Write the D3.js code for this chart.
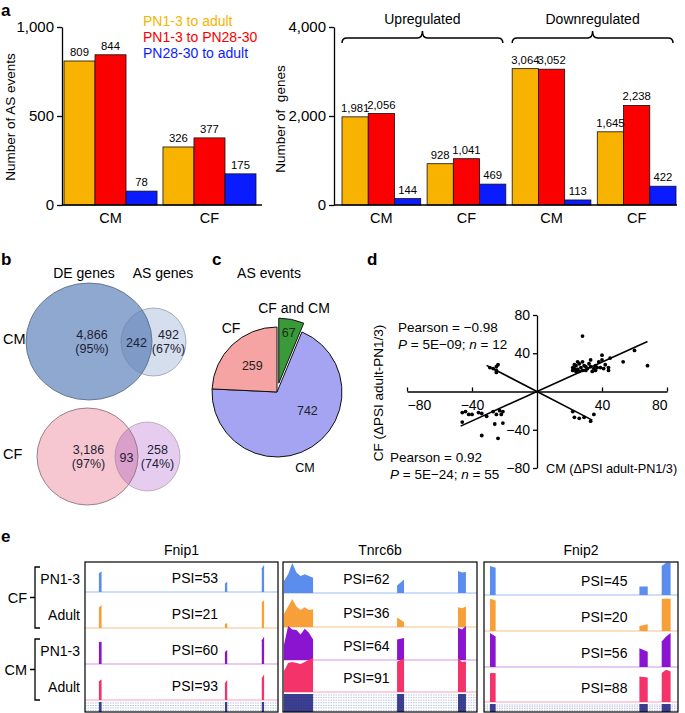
<!DOCTYPE html>
<html>
<head>
<meta charset="utf-8">
<script src="https://cdn.jsdelivr.net/npm/d3@7"></script>
<style>
  body { margin: 0; background: #fff; }
  svg { display: block; font-family: "Liberation Sans", Arial, sans-serif; }
</style>
</head>
<body>
<script>
// ---- panel a data
const asGroups = ["CM", "CF"];
const comparisons = ["PN1-3 to adult", "PN1-3 to PN28-30", "PN28-30 to adult"];
const asEventCounts = [[809, 844, 78], [326, 377, 175]];
const asTicks = [0, 500, 1000];

const deGroups = ["CM", "CF", "CM", "CF"];
const deDirections = ["Upregulated", "Downregulated"];
const deGeneCounts = [[1981, 2056, 144], [928, 1041, 469], [3064, 3052, 113], [1645, 2238, 422]];
const deTicks = [0, 2000, 4000];

// ---- panel b data
const vennCells = ["CM", "CF"];
const vennSets = ["DE genes", "AS genes"];
const deOnlyCounts = [4866, 3186];
const deOnlyPct = [95, 97];
const overlapCounts = [242, 93];
const asOnlyCounts = [492, 258];
const asOnlyPct = [67, 74];

// ---- panel c data
const pieLabels = ["CF and CM", "CM", "CF"];
const pieValues = [67, 742, 259];

// ---- panel d data
const posPoints = [
  [-46, -22], [-44, -21], [-42, -24], [-46, -32], [-40, -24], [-36, -22], [-34, -46], [-34, -23],
  [-27, -21], [-25, -24], [-23, -20], [-22, -24], [-21, -21], [-26, -34], [-21, -33], [-24, -49], [-31, -26],
  [28, 58], [68, 27], [60, 43], [53, 31], [45, 35], [40, 38], [44, 22], [44, 25], [42, 28], [38, 31],
  [36, 27], [35, 24], [33, 33], [32, 29], [31, 24], [30, 22], [29, 27], [28, 31], [27, 25], [26, 29],
  [25, 23], [24, 27], [23, 24], [22, 22], [22, 25], [23, 28], [25, 31], [26, 21], [28, 22], [30, 26],
  [34, 21], [36, 22], [37, 25], [39, 25], [40, 33], [41, 24], [33, 26], [24, 21]
];
const negPoints = [
  [-29, 25], [-27, 24], [-25, 22], [-25, 26], [-24, 28], [-25, 20],
  [22, -21], [23, -27], [26, -28], [29, -27], [33, -31], [35, -24]
];
const fitSlopes = [0.77, -0.88];
const fitRanges = [[-47, 68], [-31, 34]];
const dTicks = [-80, -40, 40, 80];

// ---- panel e data
const trackGenes = ["Fnip1", "Tnrc6b", "Fnip2"];
const trackSamples = ["PN1-3", "Adult", "PN1-3", "Adult"];
const trackCells = ["CF", "CM"];
const psiValues = [[53, 21, 60, 93], [62, 36, 64, 91], [45, 20, 56, 88]];
const exonSpans = [
  [[7.2, 8.6], [72.5, 73.7], [91.6, 92.8]],
  [[0.5, 15.5], [58.8, 62.4], [90.2, 94.3]],
  [[3.1, 6.0], [80.1, 84.4], [91.6, 96.2]]
];
// coverage per gene -> sample row -> exon, as fraction of track height
const coverage = [
  [
    [[0.55, 0.6], [0.25, 0.3], [0.7, 0.8]],
    [[0.6, 0.68], [0.12, 0.15], [0.75, 0.82]],
    [[0.65, 0.65], [0.35, 0.41], [0.7, 0.8]],
    [[0.55, 0.6], [0.5, 0.59], [0.65, 0.75]]
  ],
  [
    [[0.35, 0.55, 0.88, 0.6, 0.5, 0.55, 0.5, 0.45], [0.22, 0.4], [0.65, 0.6, 0.62]],
    [[0.38, 0.6, 0.82, 0.6, 0.5, 0.58, 0.5, 0.52], [0.28, 0.15], [0.58, 0.55, 0.6]],
    [[0.45, 1, 0.9, 0.88, 0.75, 0.92, 0.8, 0.6], [0.6, 0.65], [0.95, 0.9, 1]],
    [[0.62, 0.85, 0.88, 0.85, 0.82, 0.88, 0.95, 1], [0.9, 0.98], [1, 0.88, 0.9]]
  ],
  [
    [[0.85, 0.8], [0.25, 0.25], [0.85, 0.95, 0.95]],
    [[0.95, 0.9], [0.15, 0.2], [0.95, 0.95, 0.95]],
    [[1, 0.9], [0.55, 0.45], [0.75, 0.9, 1]],
    [[0.85, 0.85], [0.75, 0.72], [0.85, 0.95, 0.9]]
  ]
];

// ---- styles
const barColors = ["#f8b300", "#fa0000", "#0a1cff"];
const pieColors = ["#3a9a3a", "#a4a4f2", "#f5a3a3"];
const trackColors = ["#5b8def", "#f7a03a", "#8a14cf", "#f3336a"];
const trackLight = ["#9cbaf3", "#f7c08a", "#cc95ea", "#f7a0ba"];

const svg = d3.select("body").append("svg").attr("width", 685).attr("height", 713);
svg.append("rect").attr("width", 685).attr("height", 713).attr("fill", "#fff");

function panelLabel(t, x, y) {
  svg.append("text").attr("x", x).attr("y", y).attr("font-size", 17)
    .attr("font-weight", "bold").text(t);
}

function styleAxis(g, size) {
  g.attr("font-family", null).attr("font-size", size);
  g.select(".domain").attr("stroke", "#000").attr("stroke-width", 1.3);
  g.selectAll(".tick line").attr("stroke", "#000").attr("stroke-width", 1.3);
  g.selectAll(".tick text").attr("fill", "#000");
}

// =============== panel a
panelLabel("a", 1, 16);

function barChart(g, counts, groupNames, yScale, xScale, ticks, axisX, xEnd) {
  const inner = d3.scaleBand().domain(d3.range(comparisons.length)).range([0, xScale.bandwidth()]);
  const grp = g.selectAll("g.grp").data(counts).join("g").attr("class", "grp")
    .attr("transform", (d, i) => "translate(" + xScale(i) + ",0)");
  grp.selectAll("rect").data(d => d).join("rect")
    .attr("x", (v, j) => inner(j))
    .attr("y", v => yScale(v))
    .attr("width", inner.bandwidth())
    .attr("height", v => yScale(0) - yScale(v))
    .attr("fill", (v, j) => barColors[j])
    .attr("stroke", "#111").attr("stroke-width", 0.8);
  grp.selectAll("text").data(d => d).join("text")
    .attr("x", (v, j) => inner(j) + inner.bandwidth() / 2)
    .attr("y", v => yScale(v) - 5)
    .attr("text-anchor", "middle").attr("font-size", 11.3)
    .text(d3.format(","));

  g.append("g").attr("transform", "translate(" + axisX + ",0)")
    .call(d3.axisLeft(yScale).tickValues(ticks).tickFormat(d3.format(",")).tickSize(5).tickPadding(3).tickSizeOuter(0))
    .call(a => styleAxis(a, 15));

  g.append("line").attr("x1", axisX).attr("x2", xEnd)
    .attr("y1", yScale(0)).attr("y2", yScale(0))
    .attr("stroke", "#000").attr("stroke-width", 1.3);

  g.append("g").attr("transform", "translate(0," + yScale(0) + ")")
    .call(d3.axisBottom(xScale).tickFormat(i => groupNames[i]).tickSize(0).tickPadding(8))
    .call(a => { styleAxis(a, 14.5); a.select(".domain").remove(); });
}

const aLeft = svg.append("g");
const yAS = d3.scaleLinear().domain([0, 1000]).range([205, 27]);
const xAS = d3.scaleBand().domain(d3.range(asGroups.length)).range([64, 256]).paddingInner(0.06);
barChart(aLeft, asEventCounts, asGroups, yAS, xAS, asTicks, 62, 262);

aLeft.append("text")
  .attr("transform", "translate(15,117) rotate(-90)")
  .attr("text-anchor", "middle").attr("font-size", 13.5)
  .text("Number of AS events");

aLeft.selectAll("text.legend").data(comparisons).join("text").attr("class", "legend")
  .attr("x", 143).attr("y", (d, i) => 26 + i * 16)
  .attr("font-size", 14).attr("fill", (d, i) => barColors[i])
  .text(d => d);

const aRight = svg.append("g");
const yDE = d3.scaleLinear().domain([0, 4000]).range([205, 27]);
const xDE = d3.scaleBand().domain(d3.range(deGroups.length)).range([342, 676]).paddingInner(0.075);
barChart(aRight, deGeneCounts, deGroups, yDE, xDE, deTicks, 334, 677);

aRight.append("text")
  .attr("transform", "translate(285,119) rotate(-90)")
  .attr("text-anchor", "middle").attr("font-size", 13.5)
  .text("Number of\u00a0 genes");

// braces over up / down groups
deDirections.forEach((name, k) => {
  const x0 = xDE(k * 2), x1 = xDE(k * 2 + 1) + xDE.bandwidth() - 3;
  const xm = (x0 + x1) / 2, yb = 43, yl = 38, yt = 31;
  const p = d3.path();
  p.moveTo(x0, yb);
  p.quadraticCurveTo(x0, yl, x0 + 5, yl);
  p.lineTo(xm - 5, yl);
  p.quadraticCurveTo(xm, yl, xm, yt);
  p.quadraticCurveTo(xm, yl, xm + 5, yl);
  p.lineTo(x1 - 5, yl);
  p.quadraticCurveTo(x1, yl, x1, yb);
  aRight.append("path").attr("d", p.toString()).attr("fill", "none")
    .attr("stroke", "#000").attr("stroke-width", 1.5);
  aRight.append("text").attr("x", xm).attr("y", 24).attr("text-anchor", "middle")
    .attr("font-size", 14).text(name);
});

// =============== panel b (Venn)
panelLabel("b", 1, 265);
const b = svg.append("g");
const defs = svg.append("defs");
b.selectAll("text.set").data(vennSets).join("text").attr("class", "set")
  .attr("x", (d, i) => [84, 163][i]).attr("y", 278)
  .attr("text-anchor", "middle").attr("font-size", 14).text(d => d);

const vennShapes = [
  { big: [89, 341.5, 63, 58.5], small: [153.5, 342, 32.5, 34], fills: ["#8fa8cf", "#d5deec", "#7e9ac7"], stroke: "#5d6f8c" },
  { big: [87.5, 456.5, 50.5, 48.5], small: [147.5, 456.5, 32.5, 34.5], fills: ["#f7c7d1", "#e6cdf0", "#daa0cb"], stroke: "#8f7480" }
];
vennShapes.forEach((s, i) => {
  const cid = "vclip" + i;
  defs.append("clipPath").attr("id", cid).append("ellipse")
    .attr("cx", s.big[0]).attr("cy", s.big[1]).attr("rx", s.big[2]).attr("ry", s.big[3]);
  const el = (sh, fill) => b.append("ellipse")
    .attr("cx", sh[0]).attr("cy", sh[1]).attr("rx", sh[2]).attr("ry", sh[3]).attr("fill", fill);
  el(s.big, s.fills[0]);
  el(s.small, s.fills[1]);
  el(s.small, s.fills[2]).attr("clip-path", "url(#" + cid + ")");
  el(s.big, "none").attr("stroke", s.stroke).attr("stroke-width", 0.9);
  el(s.small, "none").attr("stroke", s.stroke).attr("stroke-width", 0.7).attr("stroke-opacity", 0.7);

  const cy = s.big[1];
  b.append("text").attr("x", 3).attr("y", cy + 2).attr("font-size", 14.5).text(vennCells[i]);
  const two = (x, a, c) => {
    b.append("text").attr("x", x).attr("y", cy - 3).attr("text-anchor", "middle").attr("font-size", 12.5).attr("fill", "#1d2236").text(a);
    b.append("text").attr("x", x).attr("y", cy + 11).attr("text-anchor", "middle").attr("font-size", 12.5).attr("fill", "#1d2236").text(c);
  };
  two(s.big[0] + (i ? 1 : 3), d3.format(",")(deOnlyCounts[i]), "(" + deOnlyPct[i] + "%)");
  two(s.small[0] + (i ? 10 : 15), asOnlyCounts[i], "(" + asOnlyPct[i] + "%)");
  b.append("text").attr("x", (s.big[0] + s.big[2] + s.small[0] - s.small[2]) / 2).attr("y", cy + 5)
    .attr("text-anchor", "middle").attr("font-size", 12.5).attr("fill", "#1d2236").text(overlapCounts[i]);
});

// =============== panel c (pie)
panelLabel("c", 212, 265);
const c = svg.append("g").attr("transform", "translate(277,392)");
svg.append("text").attr("x", 269).attr("y", 278).attr("text-anchor", "middle")
  .attr("font-size", 14).text("AS events");
const pieR = 65;
const arcs = d3.pie().sort(null)(pieValues);
const arc = d3.arc().innerRadius(0).outerRadius(pieR);
const explode = d => {
  if (d.index !== 0) return "";
  const m = (d.startAngle + d.endAngle) / 2;
  return "translate(" + 9 * Math.sin(m) + "," + (-9 * Math.cos(m)) + ")";
};
c.selectAll("path").data(arcs).join("path")
  .attr("transform", explode)
  .attr("d", arc)
  .attr("fill", (d, i) => pieColors[i])
  .attr("stroke", "#111").attr("stroke-width", 1);
const labelR = [0.78, 0.55, 0.55];
c.selectAll("text.val").data(arcs).join("text").attr("class", "val")
  .attr("transform", (d, i) => {
    const m = (d.startAngle + d.endAngle) / 2 + (i === 1 ? -0.45 : 0);
    const r = pieR * labelR[i] + (i === 0 ? 9 : 0);
    return "translate(" + r * Math.sin(m) + "," + (-r * Math.cos(m) + 4) + ")";
  })
  .attr("text-anchor", "middle").attr("font-size", 12.5)
  .attr("fill", (d, i) => i === 0 ? "#143014" : "#222")
  .text(d => d.data);
// slice names
const pieNamePos = [[294, 313], [305, 472], [231, 333]];
c.selectAll("text.name").data(pieLabels).join("text").attr("class", "name")
  .attr("x", (d, i) => pieNamePos[i][0] - 277).attr("y", (d, i) => pieNamePos[i][1] - 392)
  .attr("text-anchor", "middle").attr("font-size", (d, i) => i === 1 ? 12.5 : 14)
  .text(d => d);

// =============== panel d (scatter)
panelLabel("d", 367, 265);
const d = svg.append("g");
const xD = d3.scaleLinear().domain([-80, 80]).range([407, 667]);
const yD = d3.scaleLinear().domain([-80, 80]).range([468, 315]);

const xAxisD = d.append("g").attr("transform", "translate(0," + yD(0) + ")")
  .call(d3.axisBottom(xD).tickValues(dTicks).tickFormat(v => v < 0 ? "\u2212" + (-v) : v)
    .tickSizeInner(-4).tickSizeOuter(0).tickPadding(9))
  .call(a => styleAxis(a, 14));
xAxisD.selectAll(".tick text").attr("text-anchor", v => v === -80 ? "start" : v === 80 ? "end" : "middle");

d.append("g").attr("transform", "translate(" + xD(0) + ",0)")
  .call(d3.axisLeft(yD).tickValues(dTicks).tickFormat(v => v < 0 ? "\u2212" + (-v) : v)
    .tickSizeInner(4).tickSizeOuter(0).tickPadding(3))
  .call(a => styleAxis(a, 14));

fitSlopes.forEach((s, i) => {
  d.append("line")
    .attr("x1", xD(fitRanges[i][0])).attr("y1", yD(s * fitRanges[i][0]))
    .attr("x2", xD(fitRanges[i][1])).attr("y2", yD(s * fitRanges[i][1]))
    .attr("stroke", "#000").attr("stroke-width", 1.6);
});

d.selectAll("circle").data(posPoints.concat(negPoints)).join("circle")
  .attr("cx", p => xD(p[0])).attr("cy", p => yD(p[1])).attr("r", 1.9).attr("fill", "#000");

d.append("text").attr("transform", "translate(383,393) rotate(-90)")
  .attr("text-anchor", "middle").attr("font-size", 13.5).text("CF (\u0394PSI adult-PN1/3)");
d.append("text").attr("x", 546).attr("y", 473).attr("font-size", 12.7).text("CM (\u0394PSI adult-PN1/3)");

function statText(x, y, r, p, n) {
  d.append("text").attr("x", x).attr("y", y).attr("font-size", 13.5).text("Pearson = " + r);
  const t = d.append("text").attr("x", x).attr("y", y + 17).attr("font-size", 13.5);
  t.append("tspan").attr("font-style", "italic").text("P");
  t.append("tspan").text(" = " + p + "; ");
  t.append("tspan").attr("font-style", "italic").text("n");
  t.append("tspan").text(" = " + n);
}
statText(398, 332, "\u22120.98", "5E\u221209", negPoints.length);
statText(390, 462, "0.92", "5E\u221224", posPoints.length);

// =============== panel e (coverage tracks)
panelLabel("e", 1, 542);
const e = svg.append("g");
const boxX = [85, 283, 484];
const boxW = [193, 194, 194];
const boxTop = 562, boxBottom = 712;
const rowBase = [[592, 628, 664, 700], [593, 627, 660, 692], [595, 631, 667, 702]];
const psiPos = [57, 43, 62];
const hScale = d3.scaleLinear().domain([0, 1]).range([0, 34]);
const area = d3.area().x(p => p[0]).y0(p => p[2]).y1(p => p[1]);

trackGenes.forEach((gene, gi) => {
  const xg = d3.scaleLinear().domain([0, 100]).range([boxX[gi], boxX[gi] + boxW[gi]]);
  const cid = "tclip" + gi;
  defs.append("clipPath").attr("id", cid).append("rect")
    .attr("x", boxX[gi]).attr("y", boxTop).attr("width", boxW[gi]).attr("height", boxBottom - boxTop);
  const g = e.append("g").attr("clip-path", "url(#" + cid + ")");

  e.append("text").attr("x", xg(50)).attr("y", 555).attr("text-anchor", "middle")
    .attr("font-size", 14).text(gene);

  rowBase[gi].forEach((base, ri) => {
    g.append("line").attr("x1", xg(0)).attr("x2", xg(100)).attr("y1", base).attr("y2", base)
      .attr("stroke", trackLight[ri]).attr("stroke-width", 1);
    exonSpans[gi].forEach((span, ei) => {
      const hs = coverage[gi][ri][ei];
      const pts = hs.map((h, k) => [
        xg(span[0] + (span[1] - span[0]) * k / (hs.length - 1)),
        base - hScale(h), base
      ]);
      g.append("path").attr("d", area(pts)).attr("fill", trackColors[ri]);
    });
    e.append("text").attr("x", xg(psiPos[gi])).attr("y", base - 9)
      .attr("text-anchor", "middle").attr("font-size", 14)
      .text("PSI=" + psiValues[gi][ri]);
  });

  // gene model
  const top = rowBase[gi][3] + 2;
  const nIso = gi === 1 ? 7 : 4;
  const iso = d3.scaleLinear().domain([0, nIso - 1]).range([top + 1, boxBottom - 1.5]);
  d3.range(nIso).forEach(k => {
    g.append("line").attr("x1", xg(0)).attr("x2", xg(100)).attr("y1", iso(k)).attr("y2", iso(k))
      .attr("stroke", "#a9b2d8").attr("stroke-width", 0.8).attr("stroke-dasharray", "1.5,1");
  });
  exonSpans[gi].forEach(span => {
    g.append("rect").attr("x", xg(span[0])).attr("width", Math.max(1.5, xg(span[1]) - xg(span[0])))
      .attr("y", top).attr("height", boxBottom - top).attr("fill", "#1b1f7c").attr("opacity", 0.85);
  });

  e.append("rect").attr("x", boxX[gi]).attr("y", boxTop).attr("width", boxW[gi])
    .attr("height", boxBottom - boxTop).attr("fill", "none").attr("stroke", "#000").attr("stroke-width", 1.2);
});

// sample labels and cell-type brackets
const labelBase = rowBase[0];
trackSamples.forEach((s, ri) => {
  e.append("text").attr("x", 80).attr("y", labelBase[ri] - 8).attr("text-anchor", "end")
    .attr("font-size", 14).text(s);
});
trackCells.forEach((cell, ci) => {
  const y0 = labelBase[ci * 2] - 25, y1 = labelBase[ci * 2 + 1];
  const ym = (y0 + y1) / 2;
  const p = d3.path();
  p.moveTo(40, y0); p.lineTo(35, y0); p.lineTo(35, y1); p.lineTo(40, y1);
  p.moveTo(35, ym); p.lineTo(30, ym);
  e.append("path").attr("d", p.toString()).attr("fill", "none").attr("stroke", "#000").attr("stroke-width", 1.3);
  e.append("text").attr("x", 27).attr("y", ym + 5).attr("text-anchor", "end")
    .attr("font-size", 14.5).text(cell);
});
</script>
</body>
</html>
